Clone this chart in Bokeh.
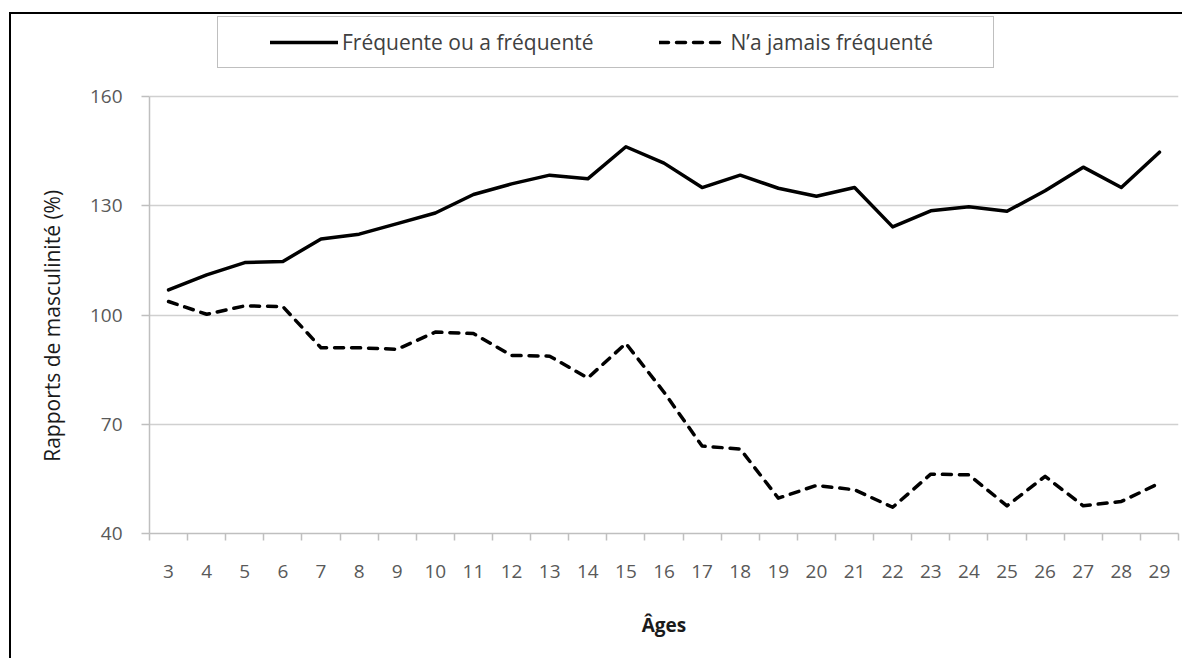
from bokeh.plotting import figure
from bokeh.models import Range1d, FixedTicker, Legend, LegendItem
from bokeh.embed import file_html
from bokeh.resources import INLINE

ages = list(range(3, 30))
frequente = [106.9, 111.0, 114.4, 114.7, 120.9, 122.2, 125.1, 128.0, 133.1, 136.0,
             138.4, 137.4, 146.2, 141.7, 135.0, 138.4, 134.8, 132.6, 135.0, 124.2,
             128.6, 129.7, 128.5, 134.1, 140.6, 135.0, 144.7]
jamais = [103.7, 100.2, 102.5, 102.3, 91.0, 91.0, 90.6, 95.3, 94.9, 88.9,
          88.7, 82.7, 92.2, 78.8, 64.0, 63.2, 49.7, 53.2, 52.0, 47.2,
          56.3, 56.1, 47.6, 55.7, 47.6, 48.8, 53.8]
y_ticks = [40, 70, 100, 130, 160]
label_solid = "Fréquente ou a fréquenté"
label_dash = "N\u2019a jamais fréquenté"
x_title = "Âges"
y_title = "Rapports de masculinité (%)"

FONT = "Open Sans"
GRID = "#d0d0d0"

# pixel layout of the plot area (the legend sits inside the frame, above the 160 line)
PLOT_PX = 437      # height of 40..160
HEAD_PX = 82       # space above the 160 line, inside the frame
y_top = y_ticks[-1] + (y_ticks[-1] - y_ticks[0]) * HEAD_PX / PLOT_PX

p = figure(width=1173, height=646, output_backend="svg", toolbar_location=None,
           x_range=Range1d(ages[0] - 0.5, ages[-1] + 0.5),
           y_range=Range1d(y_ticks[0], y_top),
           min_border_left=138, min_border_top=0, min_border_right=6, min_border_bottom=127,
           margin=(12, 0, 0, 9),
           styles={"border-left": "2px solid #000", "border-top": "2px solid #000"})
p.outline_line_color = None
p.background_fill_color = "white"
p.border_fill_color = "white"

# x axis: labels at centers, ticks at category boundaries (minor ticks)
bounds = [a - 0.5 for a in ages] + [ages[-1] + 0.5]
p.xaxis.ticker = FixedTicker(ticks=ages, minor_ticks=bounds)
p.xaxis.major_tick_out = 0
p.xaxis.major_tick_in = 0
p.xaxis.minor_tick_out = 7
p.xaxis.minor_tick_in = 0
p.xaxis.minor_tick_line_color = "#bfbfbf"
p.xaxis.minor_tick_line_width = 1.5
p.xaxis.major_label_standoff = 24
p.xaxis.axis_label = x_title
p.xaxis.axis_label_standoff = 31
p.xaxis.axis_label_text_font_style = "bold"
p.xaxis.axis_label_text_font_size = "19px"

p.yaxis.ticker = FixedTicker(ticks=y_ticks)
p.yaxis.bounds = (y_ticks[0], y_ticks[-1])
p.yaxis.major_tick_out = 8
p.yaxis.major_tick_in = 0
p.yaxis.minor_tick_line_color = None
p.yaxis.major_tick_line_color = "#bfbfbf"
p.yaxis.major_tick_line_width = 1.5
p.yaxis.major_label_standoff = 19
# trailing no-break spaces keep the title centred on the 40..160 span
p.yaxis.axis_label = y_title + "\u00a0" * 19
p.yaxis.axis_label_standoff = 21
p.yaxis.axis_label_text_font_style = "normal"
p.yaxis.axis_label_text_font_size = "21px"

for ax in (p.xaxis, p.yaxis):
    ax.axis_line_color = "#bfbfbf"
    ax.axis_line_width = 1.5
    ax.major_label_text_font = FONT
    ax.major_label_text_font_size = "19px"
    ax.major_label_text_color = "#595959"
    ax.axis_label_text_font = FONT
    ax.axis_label_text_color = "#1a1a1a"

p.xgrid.grid_line_color = None
p.ygrid.grid_line_color = GRID
p.ygrid.grid_line_width = 1.5

r1 = p.line(ages, frequente, line_color="black", line_width=3.5, line_join="round", line_cap="round")
r2 = p.line(ages, jamais, line_color="black", line_width=3.5, line_dash="9 8",
            line_join="round", line_cap="round")

legend = Legend(items=[LegendItem(label=label_solid, renderers=[r1]),
                       LegendItem(label=label_dash, renderers=[r2])],
                orientation="horizontal", location=(68, 465), margin=0,
                title=" ", title_location="left", title_standoff=40,
                title_text_font_size="1px")
legend.label_text_font = FONT
legend.label_text_font_size = "21px"
legend.label_text_color = "#404040"
legend.glyph_width = 68
legend.glyph_height = 20
legend.label_standoff = 4
legend.spacing = 65
legend.padding = 11
legend.label_width = 251
legend.border_line_color = "#7f7f7f"
legend.border_line_width = 1.5
legend.background_fill_color = "white"
legend.background_fill_alpha = 1
p.add_layout(legend, "center")

open("out.html", "w").write(file_html(p, INLINE))
